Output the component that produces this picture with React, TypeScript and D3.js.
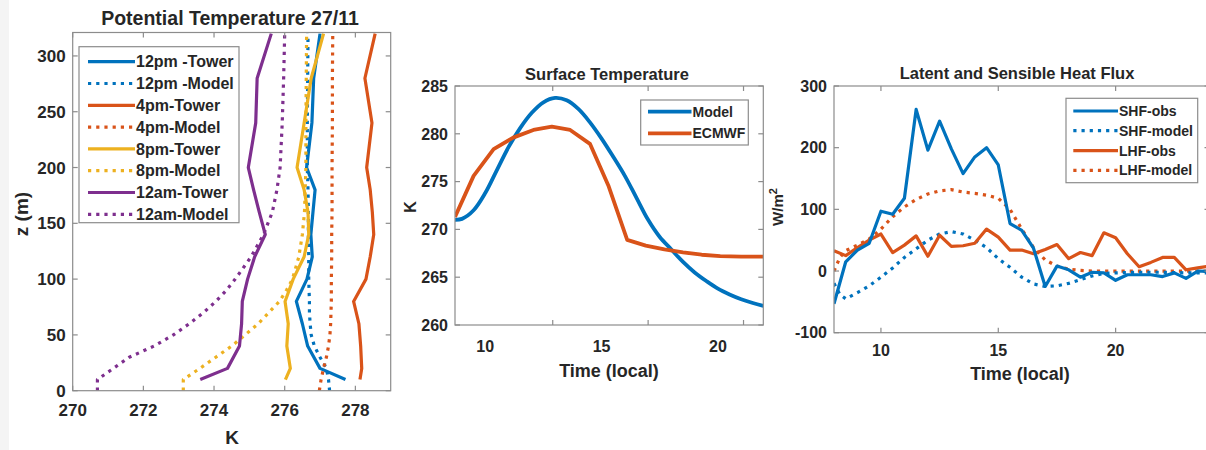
import React from 'react';
import * as d3 from 'd3';

const W = 1206;
const H = 450;
const FONT = '"Liberation Sans", Arial, Helvetica, sans-serif';
const TXT = '#262626';
const AX = '#8c8c8c';
const BLUE = '#0072BD';
const ORANGE = '#D95319';
const YELLOW = '#EDB120';
const PURPLE = '#7E2F8E';

// ---------- Panel 1: Potential temperature profiles ----------
const towerZ = [10, 20, 40, 60, 80, 100, 120, 140, 160, 180, 200, 240, 280, 320];
const tower12pm = [277.72, 277.0, 276.65, 276.5, 276.33, 276.63, 276.78, 276.74, 276.8, 276.86, 276.62, 276.77, 276.82, 277.0];
const tower4pm = [278.13, 278.18, 278.15, 278.1, 277.95, 278.3, 278.42, 278.52, 278.48, 278.42, 278.32, 278.47, 278.27, 278.56];
const tower8pm = [276.02, 276.16, 276.06, 276.1, 276.01, 276.24, 276.55, 276.68, 276.66, 276.55, 276.35, 276.55, 276.75, 277.1];
const tower12am = [273.61, 274.38, 274.72, 274.78, 274.8, 274.95, 275.15, 275.45, 275.28, 275.12, 274.97, 275.18, 275.22, 275.62];

const modelZ = [0, 10, 20, 30, 40, 50, 60, 70, 80, 90, 100, 120, 140, 160, 180, 200, 240, 280, 320];
const model12pm = [277.27, 277.24, 277.18, 277.0, 276.84, 276.75, 276.72, 276.7, 276.7, 276.69, 276.68, 276.68, 276.67, 276.67, 276.66, 276.64, 276.64, 276.65, 276.66];
const model4pm = [276.98, 277.03, 277.1, 277.18, 277.24, 277.28, 277.3, 277.31, 277.32, 277.32, 277.32, 277.33, 277.33, 277.34, 277.34, 277.34, 277.35, 277.35, 277.36];
const model8pm = [273.13, 273.13, 273.6, 274.05, 274.5, 274.88, 275.25, 275.55, 275.85, 276.05, 276.22, 276.4, 276.5, 276.56, 276.58, 276.6, 276.6, 276.61, 276.62];
const model12am = [270.7, 270.7, 271.15, 271.6, 272.3, 272.85, 273.3, 273.7, 274.05, 274.35, 274.6, 275.05, 275.4, 275.65, 275.78, 275.87, 275.93, 275.97, 276.0];

const p1Labels = ['12pm -Tower', '12pm -Model', '4pm-Tower', '4pm-Model', '8pm-Tower', '8pm-Model', '12am-Tower', '12am-Model'];
const p1XTicks = [270, 272, 274, 276, 278];
const p1YTicks = [0, 50, 100, 150, 200, 250, 300];

// ---------- Panel 2: Surface temperature ----------
const stModelTime = [8.7, 9.0, 9.5, 10.0, 10.5, 11.0, 11.5, 12.0, 12.5, 13.0, 13.5, 14.0, 14.5, 15.0, 15.5, 16.0, 16.5, 17.0, 17.5, 18.0, 18.5, 19.0, 19.5, 20.0, 20.5, 21.0, 21.5, 21.95];
const stModel = [271.0, 271.1, 272.0, 273.8, 276.2, 278.6, 280.6, 282.2, 283.3, 283.75, 283.5, 282.6, 281.2, 279.5, 277.6, 275.6, 273.3, 271.0, 269.2, 267.9, 266.6, 265.5, 264.6, 263.8, 263.2, 262.7, 262.3, 262.0];
const stEcmwfTime = [8.7, 9.5, 10.36, 11.2, 12.07, 12.86, 13.65, 14.5, 15.29, 16.1, 16.9, 17.7, 18.5, 19.3, 20.1, 21.0, 21.95];
const stEcmwf = [271.3, 275.6, 278.4, 279.6, 280.4, 280.75, 280.4, 278.95, 274.6, 268.9, 268.3, 267.9, 267.6, 267.35, 267.2, 267.15, 267.15];
const p2XLabels = [10, 15, 20];
const p2XTickMarks = [12.9, 17.0, 21.1];
const p2YTicks = [260, 265, 270, 275, 280, 285];

// ---------- Panel 3: Heat fluxes ----------
const fluxObsTime = [8, 8.5, 9, 9.5, 10, 10.5, 11, 11.5, 12, 12.5, 13, 13.5, 14, 14.5, 15, 15.5, 16, 16.5, 17, 17.5, 18, 18.5, 19, 19.5, 20, 20.5, 21, 21.5, 22, 22.5, 23, 23.5, 24];
const shfObs = [-53, 15, 34, 45, 97, 92, 118, 262, 196, 243, 198, 158, 185, 200, 172, 77, 66, 37, -25, 8, 2, -10, -2, -3, -15, -6, -6, -6, -9, -3, -12, 0, -1];
const lhfObs = [33, 25, 38, 50, 60, 30, 42, 57, 24, 58, 40, 41, 45, 68, 55, 34, 34, 28, 35, 43, 20, 30, 25, 62, 54, 28, 7, 14, 22, 22, 2, 5, 8];
const fluxModelTime = [8, 8.25, 8.5, 9, 9.5, 10, 10.5, 11, 11.5, 12, 12.5, 13, 13.5, 14, 14.5, 15, 15.5, 16, 16.5, 17, 17.5, 18, 18.5, 19, 19.5, 20, 21, 22, 23, 24];
const shfModel = [-20, -38, -45, -35, -24, -10, 5, 22, 36, 50, 60, 64, 60, 50, 38, 20, 6, -10, -21, -25, -24, -20, -14, -8, -4, -3, -2, -2, -3, -3];
const lhfModel = [0, 22, 33, 42, 52, 68, 88, 104, 116, 125, 130, 132, 128, 126, 123, 118, 100, 68, 38, 18, 8, 3, 1, 0, 0, 0, 0, 0, 0, 0];
const p3XTicks = [10, 15, 20];
const p3YTicks = [-100, 0, 100, 200, 300];
const p3Labels = ['SHF-obs', 'SHF-model', 'LHF-obs', 'LHF-model'];

const DOT = '3.2 5';

type Scale = d3.ScaleLinear<number, number>;

function path(xs: number[], ys: number[], sx: Scale, sy: Scale, curve?: d3.CurveFactory) {
  const idx = xs.map((_, i) => i);
  const l = d3.line<number>().x((i) => sx(xs[i])).y((i) => sy(ys[i]));
  if (curve) l.curve(curve);
  return l(idx) || '';
}

function Frame({ sx, sy, xt, yt, xm, fs, xOff }: { sx: Scale; sy: Scale; xt: number[]; yt: number[]; xm?: number[]; fs: number; xOff: number }) {
  const [x0, x1] = sx.range();
  const [y0, y1] = sy.range();
  const marks = xm ?? xt;
  const L = 5;
  return (
    <g>
      <rect x={x0} y={y1} width={x1 - x0} height={y0 - y1} fill="none" stroke={AX} strokeWidth={1.2} />
      {marks.map((v) => (
        <g key={'xm' + v}>
          <line x1={sx(v)} x2={sx(v)} y1={y0} y2={y0 - L} stroke={AX} strokeWidth={1.2} />
          <line x1={sx(v)} x2={sx(v)} y1={y1} y2={y1 + L} stroke={AX} strokeWidth={1.2} />
        </g>
      ))}
      {yt.map((v) => (
        <g key={'ym' + v}>
          <line x1={x0} x2={x0 + L} y1={sy(v)} y2={sy(v)} stroke={AX} strokeWidth={1.2} />
          <line x1={x1} x2={x1 - L} y1={sy(v)} y2={sy(v)} stroke={AX} strokeWidth={1.2} />
        </g>
      ))}
      {xt.map((v) => (
        <text key={'xl' + v} x={sx(v)} y={y0 + xOff} dy="0.36em" textAnchor="middle" fontSize={fs} fontWeight="bold" fill={TXT}>
          {v}
        </text>
      ))}
      {yt.map((v) => (
        <text key={'yl' + v} x={x0 - 7} y={sy(v)} dy="0.36em" textAnchor="end" fontSize={fs} fontWeight="bold" fill={TXT}>
          {v}
        </text>
      ))}
    </g>
  );
}

function Legend({ x, y, w, h, lx0, lx1, rows, items, fs, sw }: any) {
  return (
    <g>
      <rect x={x} y={y} width={w} height={h} fill="#fff" stroke={AX} strokeWidth={1.2} />
      {items.map((it: any, i: number) => (
        <g key={it.label}>
          <line x1={lx0} x2={lx1} y1={rows[i]} y2={rows[i]} stroke={it.color} strokeWidth={sw} strokeDasharray={it.dotted ? DOT : undefined} />
          <text x={lx1 + 1} y={rows[i]} dy="0.36em" fontSize={fs} fontWeight="bold" fill={TXT}>
            {it.label}
          </text>
        </g>
      ))}
    </g>
  );
}

function Panel1() {
  const sx = d3.scaleLinear().domain([270, 279]).range([72.7, 390.7]);
  const sy = d3.scaleLinear().domain([0, 321]).range([390.7, 32.5]);
  const series = [
    { t: tower12pm, z: towerZ, color: BLUE, dotted: false },
    { t: model12pm, z: modelZ, color: BLUE, dotted: true },
    { t: tower4pm, z: towerZ, color: ORANGE, dotted: false },
    { t: model4pm, z: modelZ, color: ORANGE, dotted: true },
    { t: tower8pm, z: towerZ, color: YELLOW, dotted: false },
    { t: model8pm, z: modelZ, color: YELLOW, dotted: true },
    { t: tower12am, z: towerZ, color: PURPLE, dotted: false },
    { t: model12am, z: modelZ, color: PURPLE, dotted: true },
  ];
  const rows = p1Labels.map((_, i) => 61.7 + i * 21.8);
  return (
    <g>
      <defs>
        <clipPath id="c1">
          <rect x={72.7} y={32.5} width={318} height={358.2} />
        </clipPath>
      </defs>
      <g clipPath="url(#c1)">
        {series.map((s, i) => (
          <path key={i} d={path(s.t, s.z, sx, sy)} fill="none" stroke={s.color} strokeWidth={3.2} strokeLinejoin="round" strokeDasharray={s.dotted ? DOT : undefined} />
        ))}
      </g>
      <Frame sx={sx} sy={sy} xt={p1XTicks} yt={p1YTicks} fs={17} xOff={19.5} />
      <Legend x={79} y={46.7} w={160} h={176} lx0={88} lx1={135} rows={rows} fs={16} sw={3.2}
        items={series.map((s, i) => ({ label: p1Labels[i], color: s.color, dotted: s.dotted }))} />
      <text x={230} y={25} textAnchor="middle" fontSize={19.5} fontWeight="bold" fill={TXT}>Potential Temperature 27/11</text>
      <text x={232} y={444} textAnchor="middle" fontSize={19} fontWeight="bold" fill={TXT}>K</text>
      <text transform="translate(28,214) rotate(-90)" textAnchor="middle" fontSize={19} fontWeight="bold" fill={TXT}>z (m)</text>
    </g>
  );
}

function Panel2() {
  const sx = d3.scaleLinear().domain([8.7, 21.95]).range([455, 763.3]);
  const sy = d3.scaleLinear().domain([260, 285]).range([325, 86]);
  return (
    <g>
      <defs>
        <clipPath id="c2">
          <rect x={455} y={86} width={308.3} height={239} />
        </clipPath>
      </defs>
      <g clipPath="url(#c2)">
        <path d={path(stModelTime, stModel, sx, sy, d3.curveCatmullRom)} fill="none" stroke={BLUE} strokeWidth={3.8} />
        <path d={path(stEcmwfTime, stEcmwf, sx, sy)} fill="none" stroke={ORANGE} strokeWidth={3.8} strokeLinejoin="round" />
      </g>
      <Frame sx={sx} sy={sy} xt={p2XLabels} xm={p2XTickMarks} yt={p2YTicks} fs={16} xOff={21.7} />
      <Legend x={640.7} y={100} w={107.6} h={45} lx0={648} lx1={691.5} rows={[111.7, 133.3]} fs={14} sw={3.8}
        items={[{ label: 'Model', color: BLUE, dotted: false }, { label: 'ECMWF', color: ORANGE, dotted: false }]} />
      <text x={607} y={80} textAnchor="middle" fontSize={16.5} fontWeight="bold" fill={TXT}>Surface Temperature</text>
      <text x={609} y={377} textAnchor="middle" fontSize={18} fontWeight="bold" fill={TXT}>Time (local)</text>
      <text transform="translate(416,207) rotate(-90)" textAnchor="middle" fontSize={16} fontWeight="bold" fill={TXT}>K</text>
    </g>
  );
}

function Panel3() {
  const sx = d3.scaleLinear().domain([8, 24]).range([834, 1209.5]);
  const sy = d3.scaleLinear().domain([-100, 300]).range([332.7, 86]);
  const items = [
    { x: fluxObsTime, y: shfObs, color: BLUE, dotted: false },
    { x: fluxModelTime, y: shfModel, color: BLUE, dotted: true },
    { x: fluxObsTime, y: lhfObs, color: ORANGE, dotted: false },
    { x: fluxModelTime, y: lhfModel, color: ORANGE, dotted: true },
  ];
  const order = [3, 1, 2, 0];
  return (
    <g>
      <defs>
        <clipPath id="c3">
          <rect x={834} y={86} width={375.5} height={246.7} />
        </clipPath>
      </defs>
      <g clipPath="url(#c3)">
        {order.map((i) => (
          <path key={i} d={path(items[i].x, items[i].y, sx, sy)} fill="none" stroke={items[i].color} strokeWidth={3.2} strokeLinejoin="round" strokeDasharray={items[i].dotted ? DOT : undefined} />
        ))}
      </g>
      <Frame sx={sx} sy={sy} xt={p3XTicks} yt={p3YTicks} fs={16} xOff={17.3} />
      <Legend x={1066} y={98.3} w={131.7} h={84.4} lx0={1073.3} lx1={1118} rows={[111, 130.7, 150.7, 170.3]} fs={14} sw={3.2}
        items={items.map((s, i) => ({ label: p3Labels[i], color: s.color, dotted: s.dotted }))} />
      <text x={1017} y={79} textAnchor="middle" fontSize={16.5} fontWeight="bold" fill={TXT}>Latent and Sensible Heat Flux</text>
      <text x={1020} y={380} textAnchor="middle" fontSize={18} fontWeight="bold" fill={TXT}>Time (local)</text>
      <text transform="translate(783,207) rotate(-90)" textAnchor="middle" fontSize={15} fontWeight="bold" fill={TXT}>
        W/m<tspan dy="-6" fontSize={11}>2</tspan>
      </text>
    </g>
  );
}

export default function App() {
  return (
    <div style={{ position: 'absolute', left: 0, top: 0 }}>
      <svg width={W} height={H} viewBox={`0 0 ${W} ${H}`} style={{ display: 'block', fontFamily: FONT }}>
        <rect x={0} y={0} width={W} height={H} fill="#fff" />
        <rect x={0} y={0} width={9} height={H} fill="#f4f4f4" />
        <Panel1 />
        <Panel2 />
        <Panel3 />
      </svg>
    </div>
  );
}
